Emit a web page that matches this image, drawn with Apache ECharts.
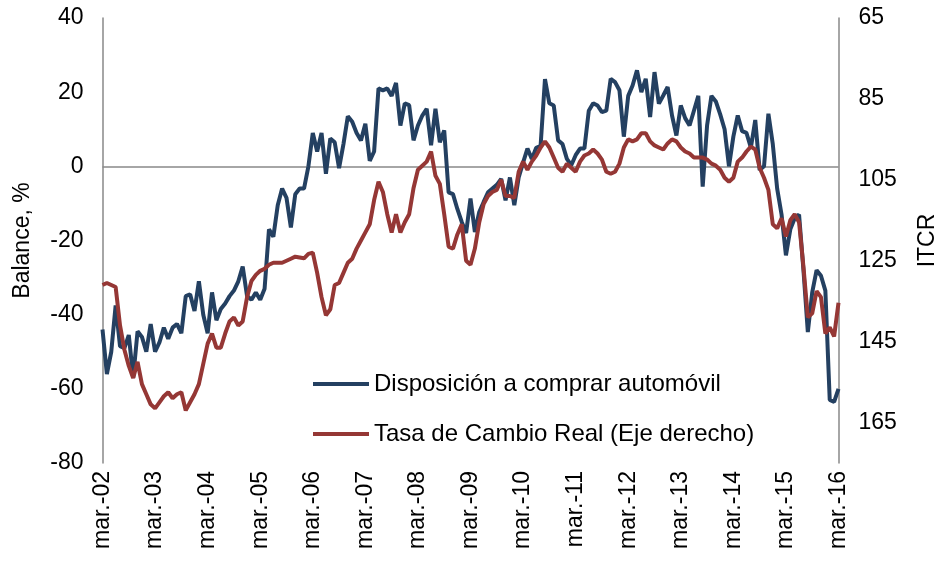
<!DOCTYPE html>
<html>
<head>
<meta charset="utf-8">
<script src="https://cdn.jsdelivr.net/npm/echarts@6/dist/echarts.min.js"></script>
<style>
html,body{margin:0;padding:0;background:#fff;overflow:hidden;}
#chart{width:942px;height:565px;}
</style>
</head>
<body>
<div id="chart"></div>
<script>
// Month names (Spanish abbreviations) used to build category labels
const monthNames = ['ene.','feb.','mar.','abr.','may.','jun.','jul.','ago.','sep.','oct.','nov.','dic.'];
const startYear = 2002, startMonth = 2, nMonths = 169;

// Disposición a comprar automóvil (balance, %), monthly from mar-02 to mar-16
const disposicion = [
 -44,-56,-50,-37.5,-48.5,-49,-45.5,-57,-44.5,-46,-50,-42.5,
 -50,-47.5,-43.5,-46.5,-43.5,-42.5,-45,-35,-34.5,-39,-31,-40,
 -45,-34,-41.5,-38.5,-37,-35,-33.5,-31,-27,-35,-36,-34,
 -36,-33,-17,-19,-10.5,-6,-8.5,-16.5,-7.5,-6,-6,0,
 9,4,9,-2,7.5,6.5,-0.5,6,13.5,12,9,7,
 11.5,1.5,4,21,20.5,21,19,22.5,11,17,16.5,7,
 11,13.7,15.5,5.7,15.5,6.5,9.7,-7,-7.5,-11.5,-15,-18,
 -8.7,-17.7,-12.3,-9.6,-7,-6,-5,-3.4,-9.2,-3,-10.5,-3,
 1,4.8,2,5,5.5,23.5,17,16.4,7,6,2,0.3,
 3,4.8,4.8,15,17,16.4,14.6,15,23.6,22.7,20.5,8,
 19,21.8,25.9,20,23.6,13.3,25.4,16.9,19.1,21.4,13.7,8.3,
 16.4,13,11,15,19,-5.5,11,19,17.5,14,10,0,
 8,13.7,9.5,9,5,12.5,-1,0,14.2,6,-6,-13,
 -24,-17,-14,-13,-28,-44.7,-34,-28,-29.5,-33.5,-63,-63.5,
 -60
];

// Tasa de Cambio Real, ITCR (right axis, inverted)
const tcr = [
 131,130.5,131,131.5,141,147,151,154,150,155.5,158,160.5,
 161.5,160,158.5,157.5,159,158,157.5,162,160,158,155.5,150.5,
 145.5,143,146.5,146.5,143,140,139,141,140,134,130,128.5,
 127.5,127,126,125.5,125.5,125.5,125,124.5,124,124.2,124.4,123.3,
 123,128,134,138.5,137,131,130.5,128,125.5,124.5,122,120,
 118,116,110,105.5,108,113.5,118,113.5,118,115.5,113.5,107,
 102.5,101.5,100.5,98,104,106,113.5,121.5,122,118.5,116,125,
 126,122,115.5,111,109,108,107.5,105,109,109,109.5,103,
 100.5,102.5,100.5,99,97,95.5,97,99.5,102,103,101,102,
 103,100.5,99,98.5,97.5,98.5,100,103,103.5,103,101,97,
 95,95.5,95,93.5,93.5,95.5,96.5,97,97.5,96,95,95.5,
 97,98,98.5,99.5,99.5,99.5,100,101,101.5,102.5,104.5,105.5,
 104.5,100.5,99.5,98,96.8,97.5,102,104.5,107.5,116,117,114.5,
 119,115,113.5,115.5,126.5,139,138,132.5,134,143,141.5,143.7,
 135.4
];

const seriesNames = ['Disposición a comprar automóvil', 'Tasa de Cambio Real (Eje derecho)'];
const seriesColors = ['#244061', '#953735'];
const axisGray = '#898989';
const FONT = 'Liberation Sans, Arial, sans-serif';

const categories = [];
for (let i = 0; i < nMonths; i++) {
  const mi = (startMonth + i) % 12;
  const yr = startYear + Math.floor((startMonth + i) / 12);
  categories.push(monthNames[mi] + '-' + String(yr % 100).padStart(2, '0'));
}

const chart = echarts.init(document.getElementById('chart'), null, {renderer: 'canvas'});
chart.setOption({
  animation: false,
  backgroundColor: '#fff',
  textStyle: {fontFamily: FONT, color: '#000'},
  grid: {left: 102.5, right: 103.5, top: 18, bottom: 102, containLabel: false, outerBoundsMode: 'none'},
  legend: {
    orient: 'vertical', left: 308, top: 367,
    itemWidth: 56, itemHeight: 4, itemGap: 26,
    icon: 'rect',
    data: seriesNames,
    textStyle: {fontFamily: FONT, fontSize: 24, color: '#000'}
  },
  xAxis: {
    type: 'category', data: categories, boundaryGap: false,
    axisLine: {show: false}, axisTick: {show: false},
    axisLabel: {interval: 11, rotate: 90, margin: 8, fontSize: 23, color: '#000', fontFamily: FONT}
  },
  yAxis: [
    {
      type: 'value', min: -80, max: 40, interval: 20,
      name: 'Balance, %', nameLocation: 'middle', nameGap: 68, nameRotate: 90,
      nameTextStyle: {fontSize: 23, color: '#000', fontFamily: FONT},
      axisLine: {show: true, lineStyle: {color: axisGray, width: 1.5}},
      axisTick: {show: false}, splitLine: {show: false},
      axisLabel: {margin: 19, fontSize: 23, color: '#000', fontFamily: FONT}
    },
    {
      type: 'value', min: 65, max: 175, interval: 20, inverse: true, position: 'right',
      name: 'ITCR', nameLocation: 'middle', nameGap: 78, nameRotate: 90,
      nameTextStyle: {fontSize: 23, color: '#000', fontFamily: FONT},
      axisLine: {show: true, lineStyle: {color: axisGray, width: 1.5}},
      axisTick: {show: false}, splitLine: {show: false},
      axisLabel: {margin: 20, fontSize: 23, color: '#000', fontFamily: FONT, showMaxLabel: false}
    }
  ],
  series: [
    {
      name: seriesNames[0], type: 'line', yAxisIndex: 0, data: disposicion,
      showSymbol: false, symbol: 'none', z: 3,
      lineStyle: {color: seriesColors[0], width: 4}, itemStyle: {color: seriesColors[0]},
      markLine: {
        silent: true, symbol: ['none', 'none'], z: 1, label: {show: false},
        lineStyle: {color: axisGray, width: 1.5, type: 'solid'},
        data: [{yAxis: 0}]
      }
    },
    {
      name: seriesNames[1], type: 'line', yAxisIndex: 1, data: tcr,
      showSymbol: false, symbol: 'none', z: 4,
      lineStyle: {color: seriesColors[1], width: 4}, itemStyle: {color: seriesColors[1]}
    }
  ]
});
</script>
</body>
</html>
